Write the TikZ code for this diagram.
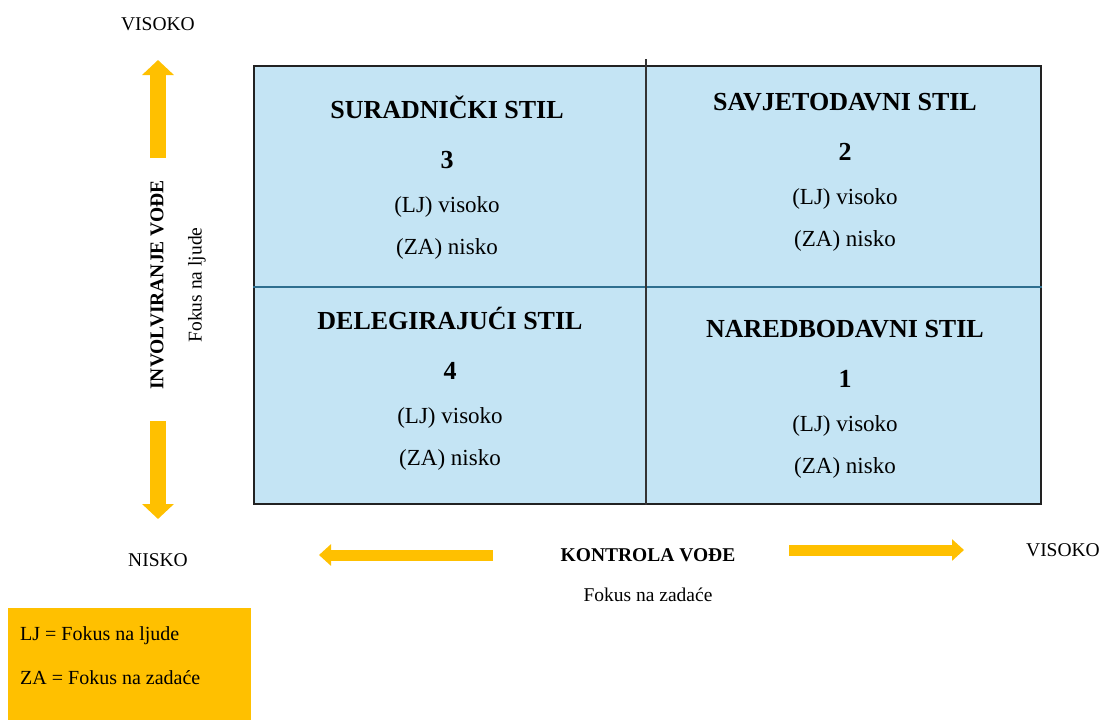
\documentclass[tikz,border=0pt]{standalone}
\usepackage{fontspec}
\setmainfont{Liberation Serif}
\usetikzlibrary{arrows.meta,positioning}
\definecolor{quadblue}{HTML}{C4E4F4}
\definecolor{gold}{HTML}{FFC000}
\definecolor{midteal}{HTML}{2F6F8F}
\definecolor{frame}{HTML}{222222}

\begin{document}
\begin{tikzpicture}[
    x=1pt, y=-1pt,
    grid/.style={rectangle, fill=quadblue, draw=frame, line width=1.5pt, minimum width=787pt, minimum height=438pt, inner sep=0pt, anchor=north west},
    stiltitle/.style={anchor=base, inner sep=0pt, font=\fontsize{26}{30}\selectfont\bfseries},
    stiltext/.style={anchor=base, inner sep=0pt, font=\fontsize{23}{26}\selectfont},
    axis/.style={inner sep=0pt, font=\fontsize{19.5}{24}\selectfont},
    axisbold/.style={inner sep=0pt, font=\fontsize{19.5}{24}\selectfont\bfseries},
    legend/.style={rectangle, fill=gold, draw=none, minimum width=243pt, minimum height=112pt, inner sep=0pt, anchor=north west},
    legendtext/.style={anchor=west, inner sep=0pt, font=\fontsize{20}{24}\selectfont},
    vtarrow/.style={draw=gold, line width=16pt, -{Triangle[length=15pt, width=31pt]}},
    htarrow/.style={draw=gold, line width=11pt, -{Triangle[length=12pt, width=21pt]}}
]
\useasboundingbox (0,0) rectangle (1101,720);

% Matrix
\node [grid] (grid) at (253,65) {};
\coordinate (hmid) at (253,287);
\coordinate (vtop) at (646,59);
\draw [midteal, line width=2pt] (hmid) -- (hmid -| grid.east);
\draw [black!80, line width=1.5pt] (vtop) -- (vtop |- grid.south);

% Quadrant texts
\foreach \cx/\cy/\title/\num in {447/110/SURADNIČKI STIL/3, 845/102/SAVJETODAVNI STIL/2, 450/321/DELEGIRAJUĆI STIL/4, 845/329/NAREDBODAVNI STIL/1}{
    \node [stiltitle] (title\num) at (\cx,\cy+8) {\title};
    \node [stiltitle] (num\num) at (\cx,\cy+58) {\num};
    \node [stiltext] (lj\num) at (\cx,\cy+102) {(LJ) visoko};
    \node [stiltext] (za\num) at (\cx,\cy+144) {(ZA) nisko};
}

% Vertical axis
\node [axis] (ytop) at (158,24) {VISOKO};
\node [axis] (ybottom) at (158,560) {NISKO};
\node [axisbold, rotate=90] (ylabel) at (157,285) {INVOLVIRANJE VOĐE};
\node [axis, rotate=90] (yfocus) at (197,285) {Fokus na ljude};
\coordinate (upfrom) at (158,158);
\coordinate (upto) at (158,60);
\coordinate (downfrom) at (158,421);
\coordinate (downto) at (158,519);
\draw [vtarrow] (upfrom) -- (upto);
\draw [vtarrow] (downfrom) -- (downto);

% Horizontal axis
\node [axisbold] (xlabel) at (648,555) {KONTROLA VOĐE};
\node [axis] (xright) at (1063,550) {VISOKO};
\node [axis] (xfocus) at (648,595) {Fokus na zadaće};
\coordinate (leftfrom) at (493,555);
\coordinate (leftto) at (319,555);
\coordinate (rightfrom) at (789,550);
\coordinate (rightto) at (964,550);
\draw [htarrow] (leftfrom) -- (leftto);
\draw [htarrow] (rightfrom) -- (rightto);

% Legend
\node [legend] (legend) at (8,608) {};
\node [legendtext] (ljkey) at (20,636) {LJ = Fokus na ljude};
\node [legendtext] (zakey) at (20,678) {ZA = Fokus na zadaće};

\end{tikzpicture}
\end{document}
